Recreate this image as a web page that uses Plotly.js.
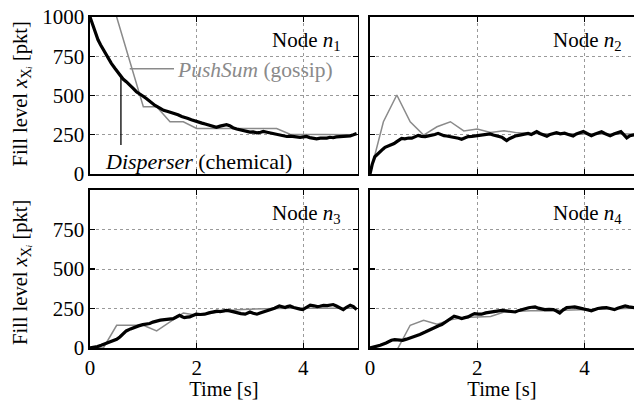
<!DOCTYPE html>
<html>
<head>
<meta charset="utf-8">
<script src="https://cdn.plot.ly/plotly-3.0.1.min.js"></script>
<style>html,body{margin:0;padding:0;background:#fff;}#chart{width:634px;height:400px;}</style>
</head>
<body>
<div id="chart"></div>
<script>
// ---- data: [time s, fill level pkt] ----
const disperserN1 = [[0,1000],[0.05,950],[0.1,905],[0.15,855],[0.2,822],[0.27,780],[0.33,745],[0.4,705],[0.47,672],[0.56,628],[0.62,605],[0.68,588],[0.74,565],[0.8,548],[0.87,524],[0.93,512],[0.99,497],[1.05,482],[1.1,468],[1.15,452],[1.22,437],[1.31,420],[1.38,406],[1.46,398],[1.52,392],[1.58,384],[1.65,377],[1.72,366],[1.78,362],[1.84,354],[1.9,346],[1.96,338],[2.02,333],[2.1,324],[2.16,318],[2.21,312],[2.3,302],[2.37,297],[2.44,305],[2.5,308],[2.56,314],[2.62,308],[2.68,295],[2.75,287],[2.82,281],[2.88,276],[2.94,270],[3.0,267],[3.06,268],[3.13,262],[3.2,266],[3.25,271],[3.32,266],[3.38,262],[3.44,258],[3.5,252],[3.56,248],[3.62,243],[3.69,239],[3.76,241],[3.82,237],[3.88,235],[3.94,233],[4.0,236],[4.06,239],[4.12,232],[4.19,227],[4.25,224],[4.32,228],[4.38,226],[4.44,229],[4.5,234],[4.56,231],[4.62,236],[4.69,238],[4.75,236],[4.82,241],[4.88,243],[4.94,250],[5.0,258]];
const pushsumN1 = [[0,2600],[0.25,1750],[0.5,1000],[0.75,715],[1.0,429],[1.25,429],[1.5,333],[1.75,333],[2.0,290],[2.25,290],[2.5,290],[2.75,290],[3.0,290],[3.25,290],[3.5,290],[3.75,253],[4.0,252],[4.25,250],[4.5,250],[4.75,250],[5.0,250]];

const disperserN2 = [[0,0],[0.04,60],[0.09,110],[0.14,128],[0.19,142],[0.24,158],[0.28,170],[0.34,178],[0.4,185],[0.45,194],[0.5,206],[0.55,218],[0.59,227],[0.65,224],[0.72,229],[0.78,228],[0.84,236],[0.9,246],[0.96,240],[1.03,238],[1.09,243],[1.15,246],[1.21,252],[1.27,259],[1.33,250],[1.38,244],[1.43,242],[1.5,238],[1.55,236],[1.59,234],[1.65,228],[1.71,221],[1.77,232],[1.83,238],[1.9,240],[1.96,243],[2.02,246],[2.08,244],[2.14,250],[2.2,253],[2.24,255],[2.3,248],[2.36,244],[2.42,238],[2.46,234],[2.51,222],[2.55,213],[2.6,225],[2.66,236],[2.71,242],[2.77,246],[2.83,250],[2.89,255],[2.95,258],[3.01,252],[3.06,262],[3.11,270],[3.17,258],[3.23,250],[3.3,240],[3.36,252],[3.42,258],[3.48,263],[3.55,256],[3.63,260],[3.7,252],[3.79,242],[3.85,255],[3.92,262],[3.98,271],[4.05,258],[4.13,244],[4.19,253],[4.25,262],[4.32,269],[4.38,258],[4.44,248],[4.48,243],[4.55,255],[4.61,260],[4.68,270],[4.73,252],[4.79,230],[4.85,244],[4.91,248],[4.95,250]];
const pushsumN2 = [[0,0],[0.25,333],[0.5,503],[0.75,333],[1.0,248],[1.25,301],[1.5,333],[1.75,274],[2.0,287],[2.25,265],[2.5,276],[2.75,262],[3.0,258],[3.25,255],[3.5,254],[3.75,256],[4.0,255],[4.25,256],[4.5,255],[4.75,255],[5.0,255]];

const disperserN3 = [[0,0],[0.07,3],[0.14,9],[0.21,17],[0.28,26],[0.36,35],[0.43,44],[0.5,55],[0.56,70],[0.62,90],[0.68,108],[0.76,121],[0.84,133],[0.91,140],[0.99,148],[1.05,150],[1.12,155],[1.18,164],[1.24,171],[1.32,176],[1.4,180],[1.48,183],[1.56,186],[1.62,196],[1.68,207],[1.73,198],[1.77,192],[1.82,195],[1.87,197],[1.93,206],[1.99,214],[2.07,212],[2.15,214],[2.23,222],[2.31,228],[2.38,233],[2.44,230],[2.5,236],[2.56,238],[2.62,235],[2.68,230],[2.75,222],[2.83,218],[2.91,214],[2.96,222],[3.0,228],[3.06,220],[3.13,214],[3.19,221],[3.25,228],[3.31,234],[3.38,239],[3.46,252],[3.55,266],[3.6,260],[3.66,256],[3.7,262],[3.75,266],[3.82,256],[3.88,249],[3.94,246],[3.99,243],[4.06,258],[4.13,271],[4.2,267],[4.26,262],[4.31,264],[4.38,270],[4.45,268],[4.5,272],[4.56,275],[4.62,266],[4.68,255],[4.75,243],[4.81,258],[4.88,271],[4.94,262],[5.0,243]];
const pushsumN3 = [[0,0],[0.25,0],[0.5,144],[0.75,144],[1.0,144],[1.25,108],[1.5,165],[1.75,222],[2.0,208],[2.25,220],[2.5,232],[2.75,242],[3.0,246],[3.25,246],[3.5,250],[3.75,252],[4.0,252],[4.25,252],[4.5,252],[4.75,252],[5.0,252]];

const disperserN4 = [[0,0],[0.1,8],[0.19,17],[0.3,32],[0.4,49],[0.46,53],[0.52,53],[0.57,51],[0.61,49],[0.68,56],[0.76,65],[0.84,74],[0.93,86],[1.03,101],[1.12,116],[1.21,133],[1.28,141],[1.34,148],[1.4,162],[1.46,176],[1.52,189],[1.57,201],[1.64,195],[1.71,186],[1.77,192],[1.83,197],[1.89,208],[1.95,218],[2.02,214],[2.08,214],[2.16,222],[2.24,228],[2.32,232],[2.4,235],[2.46,238],[2.52,235],[2.6,232],[2.66,230],[2.71,228],[2.78,238],[2.84,245],[2.89,250],[2.96,255],[3.02,258],[3.08,260],[3.14,252],[3.2,246],[3.26,243],[3.34,245],[3.42,243],[3.48,234],[3.54,222],[3.6,240],[3.67,256],[3.74,258],[3.82,260],[3.9,254],[3.97,250],[4.05,242],[4.13,235],[4.19,245],[4.25,250],[4.33,254],[4.41,256],[4.48,250],[4.56,243],[4.62,252],[4.69,260],[4.76,266],[4.83,260],[4.91,256],[4.95,255]];
const pushsumN4 = [[0,0],[0.25,-80],[0.5,-15],[0.75,144],[1.0,176],[1.25,150],[1.5,178],[1.75,193],[2.0,196],[2.25,200],[2.5,228],[2.75,234],[3.0,236],[3.25,236],[3.5,238],[3.75,244],[4.0,246],[4.25,248],[4.5,250],[4.75,252],[5.0,252]];

const nodeLabels = ['Node <i>n</i><sub>1</sub>','Node <i>n</i><sub>2</sub>','Node <i>n</i><sub>3</sub>','Node <i>n</i><sub>4</sub>'];
const yTicksTop = [0,250,500,750,1000];
const yTicksBottom = [0,250,500,750];
const xTicks = [0,2,4];
const xTickText = ['0','2','4'];

// ---- build ----
const FONT = 'Liberation Serif, Times New Roman, serif';
const GRAY = '#8a8a8a';
const panels = [[disperserN1,pushsumN1],[disperserN2,pushsumN2],[disperserN3,pushsumN3],[disperserN4,pushsumN4]];
const traces = [];
panels.forEach((p,i)=>{
  const ax = i===0?'':String(i+1);
  traces.push({x:p[1].map(d=>d[0]),y:p[1].map(d=>d[1]),xaxis:'x'+ax,yaxis:'y'+ax,mode:'lines',
    line:{color:GRAY,width:1.5},showlegend:false,hoverinfo:'skip'});
  traces.push({x:p[0].map(d=>d[0]),y:p[0].map(d=>d[1]),xaxis:'x'+ax,yaxis:'y'+ax,mode:'lines',
    line:{color:'#000',width:3.2},showlegend:false,hoverinfo:'skip'});
});

const W=634,H=400,ML=90,MR=0,MT=17,MB=52;
const PW=W-ML-MR, PH=H-MT-MB;
const px2x = p=>(p-ML)/PW;
const px2y = p=>(H-MB-p)/PH;

function xa(dom, range, labels, anchor){
  return {domain:dom, range:range, anchor:anchor, tickvals:xTicks, ticktext:xTickText, showticklabels:labels,
    ticks:'inside', ticklen:5, tickwidth:1.2, tickcolor:'#000', showline:true, linecolor:'#000', linewidth:1.6,
    mirror:'ticks', showgrid:true, gridcolor:'#9a9a9a', griddash:'dot', gridwidth:1, zeroline:false,
    tickfont:{family:FONT,size:21,color:'#000'},
    title: labels?{text:'Time [s]', font:{family:FONT,size:20.5,color:'#000'}, standoff:4}:{text:''}};
}
function ya(dom, ticks, labels, mirror, anchor){
  return {domain:dom, range:[0,1000], anchor:anchor, tickvals:ticks, showticklabels:labels,
    ticks:'inside', ticklen:5, tickwidth:1.2, tickcolor:'#000', showline:true, linecolor:'#000', linewidth:1.6,
    mirror:mirror, showgrid:true, gridcolor:'#9a9a9a', griddash:'dot', gridwidth:1, zeroline:false,
    tickfont:{family:FONT,size:21,color:'#000'}};
}
const xL=[0,px2x(357.7)], xR=[px2x(370),1];
const yT=[px2y(174),1], yB=[0,px2y(190)];
const rR=[0,(634-370)/53.6];

const annotations = [];
const labelPos = [['x','y',845],['x2','y2',845],['x3','y3',850],['x4','y4',850]];
labelPos.forEach((l,i)=>annotations.push({xref:l[0],yref:l[1],x:4.74,y:l[2],text:nodeLabels[i],
  showarrow:false,xanchor:'right',yanchor:'middle',font:{family:FONT,size:21,color:'#000'}}));
annotations.push({xref:'x',yref:'y',x:1.6,y:660,text:'<i>PushSum</i> (gossip)',showarrow:false,
  xanchor:'left',yanchor:'middle',font:{family:FONT,size:21.5,color:'#8a8a8a'}});
annotations.push({xref:'x',yref:'y',x:0.24,y:78,text:'<i>Disperser</i> (chemical)',showarrow:false,
  xanchor:'left',yanchor:'middle',font:{family:FONT,size:22,color:'#000'}});
const ytitle = 'Fill level <i>x</i><sub>X<i>ᵢ</i></sub> [pkt]';
annotations.push({xref:'paper',yref:'paper',x:px2x(21),y:px2y(94.5),text:ytitle,textangle:-90,showarrow:false,
  xanchor:'center',yanchor:'middle',font:{family:FONT,size:20.5,color:'#000'}});
annotations.push({xref:'paper',yref:'paper',x:px2x(21),y:px2y(273),text:ytitle,textangle:-90,showarrow:false,
  xanchor:'center',yanchor:'middle',font:{family:FONT,size:20.5,color:'#000'}});

const shapes = [
  {type:'line',xref:'x',yref:'y',x0:0.745,y0:671,x1:1.575,y1:671,line:{color:'#8a8a8a',width:1.5}},
  {type:'line',xref:'x',yref:'y',x0:0.58,y0:620,x1:0.58,y1:185,line:{color:'#000',width:1.3}}
];

const layout = {
  width:W,height:H,margin:{l:ML,r:MR,t:MT,b:MB,pad:0},
  paper_bgcolor:'#fff',plot_bgcolor:'#fff',showlegend:false,
  font:{family:FONT,size:20,color:'#000'},
  xaxis:xa(xL,[0,5.02],false,'y'), yaxis:ya(yT,yTicksTop,true,'ticks','x'),
  xaxis2:xa(xR,rR,false,'y2'), yaxis2:ya(yT,yTicksTop,false,false,'x2'),
  xaxis3:xa(xL,[0,5.02],true,'y3'), yaxis3:ya(yB,yTicksBottom,true,'ticks','x3'),
  xaxis4:xa(xR,rR,true,'y4'), yaxis4:ya(yB,yTicksBottom,false,false,'x4'),
  annotations:annotations, shapes:shapes
};
Plotly.newPlot('chart',traces,layout,{staticPlot:true,displayModeBar:false});
</script>
</body>
</html>
